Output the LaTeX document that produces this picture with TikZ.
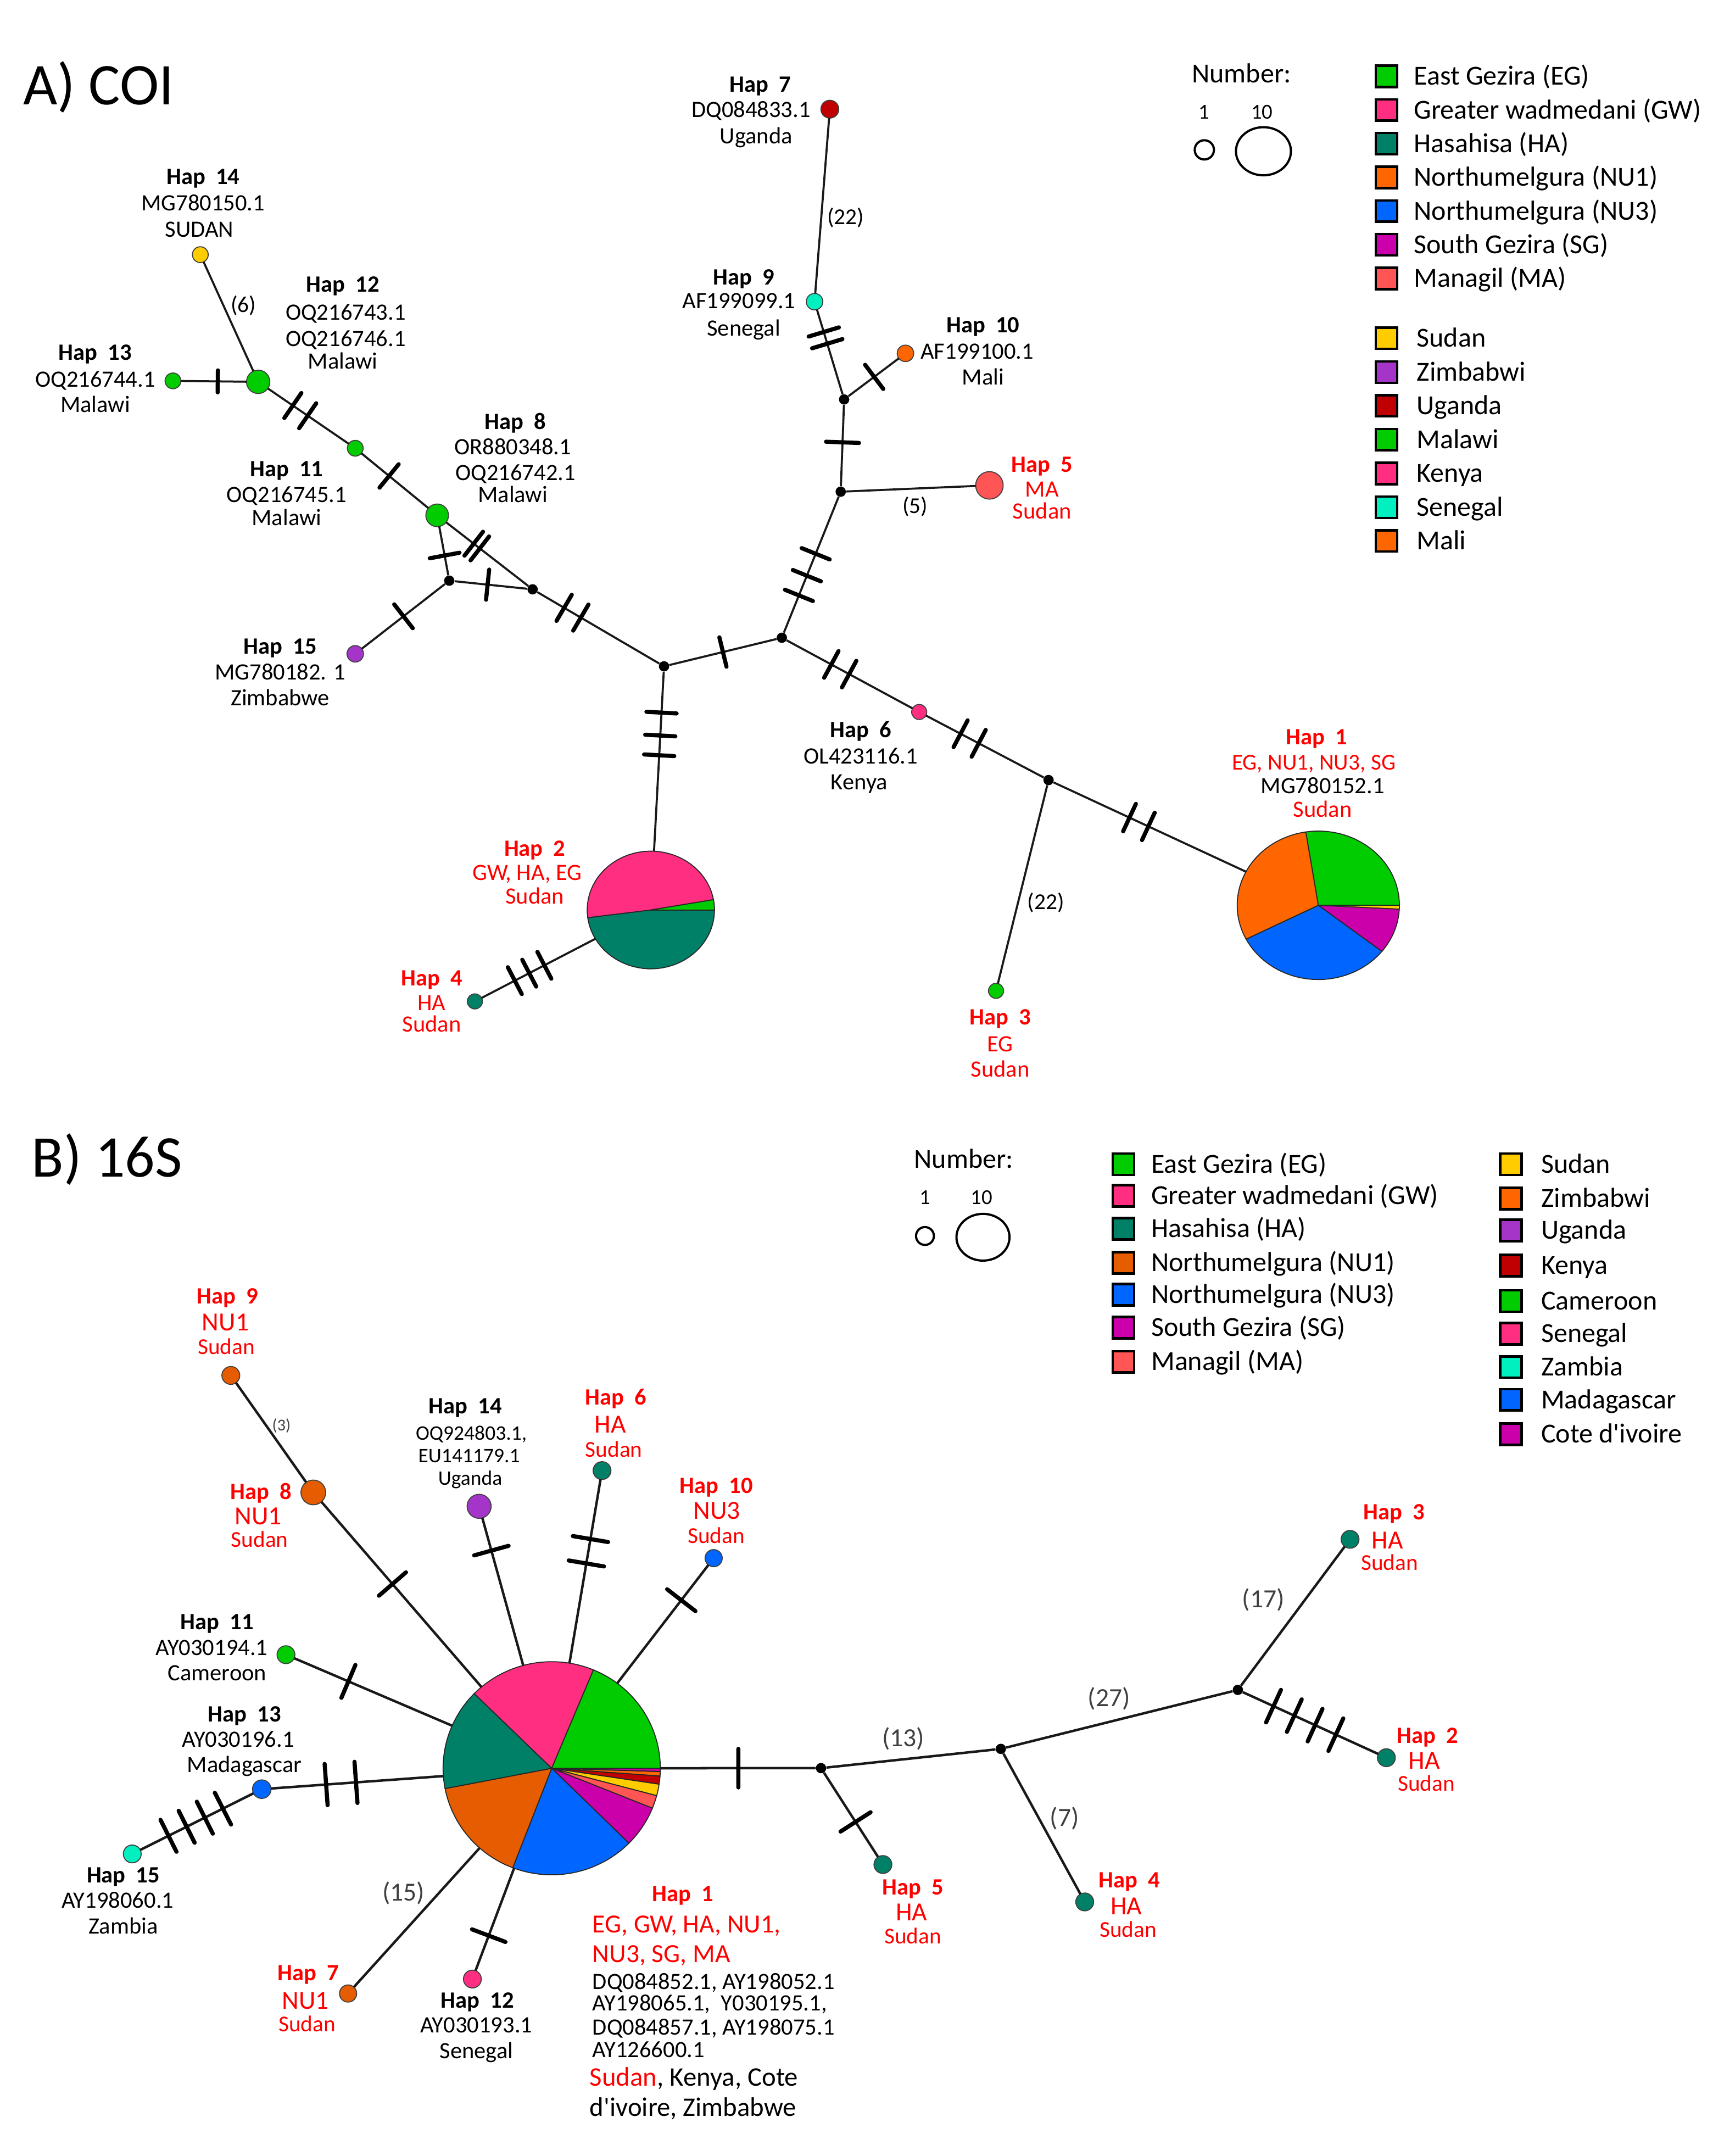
\documentclass[tikz,border=0pt]{standalone}
\usepackage{fontspec}
\setmainfont{Carlito}
\usetikzlibrary{calc,shapes.geometric}
\definecolor{cEG}{HTML}{00CC00}
\definecolor{cGW}{HTML}{FF2E80}
\definecolor{cHA}{HTML}{008066}
\definecolor{cNU}{HTML}{FF6600}
\definecolor{cNUb}{HTML}{E65C00}
\definecolor{cNT}{HTML}{0066FF}
\definecolor{cSG}{HTML}{CC00AA}
\definecolor{cMA}{HTML}{FF5555}
\definecolor{cSD}{HTML}{FFCC00}
\definecolor{cPU}{HTML}{A535C8}
\definecolor{cDR}{HTML}{C00000}
\definecolor{cCY}{HTML}{00F0C0}
\definecolor{hred}{HTML}{FF0000}
\newcommand\fsz[1]{\fontsize{#1}{#1}\selectfont}
\newcommand\lb[5]{\node[lbl,#4] (#1) at (#2,#3) {#5};}
\newcommand\hsh[4]{\foreach \hp in {#3}{\path ($(#1)!\hp!(#2)$) coordinate (hm); \draw[hashmk] ($(hm)!#4!90:(#2)$) -- ($(hm)!#4!-90:(#2)$);}}
\newcommand\slc[5]{\filldraw[pieslice,fill=#5] (0,0) -- plot[domain=#3:#4,samples=40] ({#1*cos(\x)},{#2*sin(\x)}) -- cycle;}
\tikzset{
 lbl/.style={anchor=base, inner sep=0pt, outer sep=0pt},
 f17/.style={font=\fsz{17}}, b17/.style={font=\fsz{17}\bfseries},
 f19/.style={font=\fsz{19}}, f16/.style={font=\fsz{16.5}},
 f15/.style={font=\fsz{15}}, f20/.style={font=\fsz{20}},
 rd/.style={text=hred}, gy/.style={text=black!75},
 hn/.style={circle, draw=black!75, line width=0.7pt, inner sep=0pt, outer sep=0pt},
 jn/.style={circle, fill=black, inner sep=0pt, minimum size=7.5pt},
 pie/.style={ellipse, inner sep=0pt, outer sep=0pt},
 lnk/.style={line width=1.5pt, black!90},
 lnkb/.style={line width=1.8pt, black!90},
 hashmk/.style={line width=3pt, line cap=round, black},
 pieslice/.style={draw=black!85, line width=0.7pt},
 lgb/.style={draw=black, line width=1.8pt, inner sep=0pt, minimum size=15.5pt},
 sc/.style={ellipse, draw=black, line width=1.6pt, inner sep=0pt}
}
\begin{document}
\begin{tikzpicture}[x=1pt,y=-1pt]
\fill[white] (0,0) rectangle (1246,1568);
\useasboundingbox (0,0) rectangle (1246,1568);

% ================= A) COI =================
\node[lbl, anchor=base west, font=\fsz{43}] (tA) at (17,76) {A) COI};

% legend
\lb{nA}{867}{60}{f20,anchor=base west}{Number:}
\lb{nA1}{875.8}{86.5}{font=\fsz{15.5}}{1}
\lb{nA10}{918}{86.5}{font=\fsz{15.5}}{10}
\node[sc, minimum width=14pt, minimum height=14pt] (sA1) at (876,109) {};
\node[sc, minimum width=40pt, minimum height=35pt] (sA10) at (919,110) {};
\node[lgb, fill=cEG] (kA1) at (1008.5,55.5) {};
\node[lgb, fill=cGW] (kA2) at (1008.5,80) {};
\node[lgb, fill=cHA] (kA3) at (1008.5,104.5) {};
\node[lgb, fill=cNU] (kA4) at (1008.5,129) {};
\node[lgb, fill=cNT] (kA5) at (1008.5,153.5) {};
\node[lgb, fill=cSG] (kA6) at (1008.5,178) {};
\node[lgb, fill=cMA] (kA7) at (1008.5,202.5) {};
\node[lgb, fill=cSD] (kA8) at (1008.5,246) {};
\node[lgb, fill=cPU] (kA9) at (1008.5,270.6) {};
\node[lgb, fill=cDR] (kA10) at (1008.5,295.1) {};
\node[lgb, fill=cEG] (kA11) at (1008.5,319.7) {};
\node[lgb, fill=cGW] (kA12) at (1008.5,344.3) {};
\node[lgb, fill=cCY] (kA13) at (1008.5,368.9) {};
\node[lgb, fill=cNU] (kA14) at (1008.5,393.4) {};
\lb{xA1}{1028.5}{61.8}{f20,anchor=base west}{East Gezira (EG)}
\lb{xA2}{1028.5}{86.3}{f20,anchor=base west}{Greater wadmedani (GW)}
\lb{xA3}{1028.5}{110.8}{f20,anchor=base west}{Hasahisa (HA)}
\lb{xA4}{1028.5}{135.3}{f20,anchor=base west}{Northumelgura (NU1)}
\lb{xA5}{1028.5}{159.8}{f20,anchor=base west}{Northumelgura (NU3)}
\lb{xA6}{1028.5}{184.3}{f20,anchor=base west}{South Gezira (SG)}
\lb{xA7}{1028.5}{208.8}{f20,anchor=base west}{Managil (MA)}
\lb{xA8}{1030.5}{252.3}{f20,anchor=base west}{Sudan}
\lb{xA9}{1030.5}{276.9}{f20,anchor=base west}{Zimbabwi}
\lb{xA10}{1030.5}{301.4}{f20,anchor=base west}{Uganda}
\lb{xA11}{1030.5}{326}{f20,anchor=base west}{Malawi}
\lb{xA12}{1030.5}{350.6}{f20,anchor=base west}{Kenya}
\lb{xA13}{1030.5}{375.2}{f20,anchor=base west}{Senegal}
\lb{xA14}{1030.5}{399.7}{f20,anchor=base west}{Mali}

% nodes
\node[hn, fill=cDR, minimum size=13pt] (a7) at (603.6,79.4) {};
\node[hn, fill=cCY, minimum size=12pt] (a9) at (592.5,219.4) {};
\node[hn, fill=cNU, minimum size=12pt] (a10) at (658.6,257) {};
\node[hn, fill=cMA, minimum size=20pt] (a5) at (719.7,353) {};
\node[jn] (aj1) at (614,290.5) {};
\node[jn] (aj2) at (611.5,357.6) {};
\node[jn] (aj3) at (568.7,463.8) {};
\node[jn] (aj4) at (483,484.6) {};
\node[jn] (aj5) at (387.4,428.6) {};
\node[jn] (aj6) at (326.8,422.3) {};
\node[jn] (aj7) at (762.7,567.3) {};
\node[hn, fill=cSD, minimum size=11.5pt] (a14) at (145.7,185.2) {};
\node[hn, fill=cEG, minimum size=17pt] (a12) at (187.8,277.7) {};
\node[hn, fill=cEG, minimum size=11.5pt] (a13) at (125.8,277) {};
\node[hn, fill=cEG, minimum size=11.5pt] (a11) at (258.4,326) {};
\node[hn, fill=cEG, minimum size=16.5pt] (a8) at (318,374.8) {};
\node[hn, fill=cPU, minimum size=12pt] (a15) at (258.4,475.5) {};
\node[hn, fill=cGW, minimum size=11pt] (a6) at (668.6,517.8) {};
\node[hn, fill=cHA, minimum size=11pt] (a4) at (345.4,728.3) {};
\node[hn, fill=cEG, minimum size=11pt] (a3) at (724.5,720.6) {};
\node[pie, minimum width=118pt, minimum height=108pt] (a1) at (958.9,658.4) {};
\node[pie, minimum width=92.6pt, minimum height=85.6pt] (a2) at (473.4,661.8) {};

% pies
\begin{scope}[shift={(958.9,658.4)}]
\slc{59}{54}{-98.9}{0}{cEG}
\slc{59}{54}{0}{3}{cSD}
\slc{59}{54}{3}{38.4}{cSG}
\slc{59}{54}{38.4}{152.9}{cNT}
\slc{59}{54}{152.9}{261.1}{cNU}
\end{scope}
\begin{scope}[shift={(473.4,661.8)}]
\slc{46.3}{42.8}{0}{172.5}{cHA}
\slc{46.3}{42.8}{172.5}{349.9}{cGW}
\slc{46.3}{42.8}{349.9}{360}{cEG}
\end{scope}

% edges
\draw[lnk] (a7) -- (a9);
\draw[lnk] (a9) -- (aj1);
\draw[lnk] (aj1) -- (a10);
\draw[lnk] (aj1) -- (aj2);
\draw[lnk] (aj2) -- (a5);
\draw[lnk] (aj2) -- (aj3);
\draw[lnk] (aj3) -- (aj4);
\draw[lnk] (aj3) -- (a6);
\draw[lnk] (a6) -- (aj7);
\draw[lnk] (aj7) -- (a1);
\draw[lnk] (aj7) -- (a3);
\draw[lnk] (aj4) -- (a2);
\draw[lnk] (a4) -- (a2);
\draw[lnk] (aj4) -- (aj5);
\draw[lnk] (aj5) -- (a8);
\draw[lnk] (aj5) -- (aj6);
\draw[lnk] (aj6) -- (a8);
\draw[lnk] (aj6) -- (a15);
\draw[lnk] (a8) -- (a11);
\draw[lnk] (a11) -- (a12);
\draw[lnk] (a12) -- (a13);
\draw[lnk] (a12) -- (a14);

% mutation marks
\hsh{a11}{a12}{0.49,0.643}{11pt}
\hsh{a12}{a13}{0.474}{8pt}
\hsh{a8}{a11}{0.587}{11pt}
\hsh{aj5}{a8}{0.553,0.617}{11pt}
\hsh{aj6}{a8}{0.385}{11pt}
\hsh{aj6}{aj5}{0.46}{11pt}
\hsh{aj6}{a15}{0.487}{11pt}
\hsh{aj4}{aj5}{0.633,0.76}{11pt}
\hsh{aj4}{aj3}{0.5}{11pt}
\hsh{aj4}{a2}{0.19,0.284,0.365}{11pt}
\hsh{a4}{a2}{0.227,0.309,0.395}{11pt}
\hsh{aj3}{aj2}{0.29,0.425,0.575}{11pt}
\hsh{aj2}{aj1}{0.535}{12pt}
\hsh{aj1}{a9}{0.57,0.69}{11.5pt}
\hsh{aj1}{a10}{0.49}{11pt}
\hsh{aj3}{a6}{0.36,0.49}{11pt}
\hsh{a6}{aj7}{0.32,0.46}{11pt}
\hsh{aj7}{a1}{0.30,0.37}{11pt}

% edge labels
\lb{eA1}{615}{163.3}{f16}{(22)}
\lb{eA2}{665.6}{373.3}{f16}{(5)}
\lb{eA3}{177}{227.3}{f16}{(6)}
\lb{eA4}{760.7}{661.3}{f16}{(22)}

% labels
\lb{la7a}{553}{67.1}{b17}{Hap~~7}
\lb{la7b}{546.3}{85.4}{f17}{DQ084833.1}
\lb{la7c}{550}{104.4}{f17}{Uganda}
\lb{la9a}{541}{207.2}{b17}{Hap~~9}
\lb{la9b}{537.5}{224.4}{f17}{AF199099.1}
\lb{la9c}{541}{244.4}{f17}{Senegal}
\lb{la10a}{715}{241.9}{b17}{Hap~~10}
\lb{la10b}{710.8}{261}{f17}{AF199100.1}
\lb{la10c}{715}{279.9}{f17}{Mali}
\lb{la5a}{758}{343.4}{b17,rd}{Hap~~5}
\lb{la5b}{758}{361.4}{f17,rd}{MA}
\lb{la5c}{758}{377.4}{f17,rd}{Sudan}
\lb{la14a}{147.7}{134.1}{b17}{Hap~~14}
\lb{la14b}{147.7}{153.2}{f17}{MG780150.1}
\lb{la14c}{145}{172.3}{f17}{SUDAN}
\lb{la12a}{249.4}{212.3}{b17}{Hap~~12}
\lb{la12b}{251.4}{232.9}{f17}{OQ216743.1}
\lb{la12c}{251.4}{252}{f17}{OQ216746.1}
\lb{la12d}{249.4}{268.4}{f17}{Malawi}
\lb{la13a}{69.3}{262}{b17}{Hap~~13}
\lb{la13b}{69.3}{281.4}{f17}{OQ216744.1}
\lb{la13c}{69.3}{299.7}{f17}{Malawi}
\lb{la8a}{375}{312.2}{b17}{Hap~~8}
\lb{la8b}{373}{330.6}{f17}{OR880348.1}
\lb{la8c}{375}{349.3}{f17}{OQ216742.1}
\lb{la8d}{373}{365.4}{f17}{Malawi}
\lb{la11a}{208.5}{346.4}{b17}{Hap~~11}
\lb{la11b}{208.5}{365.4}{f17}{OQ216745.1}
\lb{la11c}{208.5}{382.2}{f17}{Malawi}
\lb{la15a}{203.8}{475.4}{b17}{Hap~~15}
\lb{la15b}{203.8}{494.4}{f17}{MG780182. 1}
\lb{la15c}{203.8}{513}{f17}{Zimbabwe}
\lb{la6a}{626}{536.4}{b17}{Hap~~6}
\lb{la6b}{626}{555.4}{f17}{OL423116.1}
\lb{la6c}{625}{574.4}{f17}{Kenya}
\lb{la2a}{389}{622.7}{b17,rd}{Hap~~2}
\lb{la2b}{383.6}{640.2}{f17,rd}{GW, HA, EG}
\lb{la2c}{389}{657.2}{f17,rd}{Sudan}
\lb{la4a}{314}{716.8}{b17,rd}{Hap~~4}
\lb{la4b}{314}{734.7}{f17,rd}{HA}
\lb{la4c}{314}{750.4}{f17,rd}{Sudan}
\lb{la3a}{727.5}{745.4}{b17,rd}{Hap~~3}
\lb{la3b}{727.5}{764.7}{f17,rd}{EG}
\lb{la3c}{727.5}{783}{f17,rd}{Sudan}
\lb{la1a}{957.7}{541.4}{b17,rd}{Hap~~1}
\lb{la1b}{955.6}{559.9}{f16,rd}{EG, NU1, NU3, SG}
\lb{la1c}{962}{577.2}{f17}{MG780152.1}
\lb{la1d}{962}{594.4}{f17,rd}{Sudan}

% ================= B) 16S =================
\node[lbl, anchor=base west, font=\fsz{43}] (tB) at (23,856) {B) 16S};

\lb{nB}{665}{849.7}{f20,anchor=base west}{Number:}
\lb{nB1}{672.8}{875.8}{font=\fsz{15.5}}{1}
\lb{nB10}{714}{875.8}{font=\fsz{15.5}}{10}
\node[sc, minimum width=13pt, minimum height=13pt] (sB1) at (672.8,898.9) {};
\node[sc, minimum width=38.6pt, minimum height=34pt] (sB10) at (715,899.8) {};
\node[lgb, fill=cEG] (kB1) at (817.2,846.7) {};
\node[lgb, fill=cGW] (kB2) at (817.2,869.7) {};
\node[lgb, fill=cHA] (kB3) at (817.2,893.6) {};
\node[lgb, fill=cNUb] (kB4) at (817.2,918.4) {};
\node[lgb, fill=cNT] (kB5) at (817.2,941.6) {};
\node[lgb, fill=cSG] (kB6) at (817.2,965.6) {};
\node[lgb, fill=cMA] (kB7) at (817.2,990.4) {};
\lb{xB1}{837.4}{853}{f20,anchor=base west}{East Gezira (EG)}
\lb{xB2}{837.4}{876}{f20,anchor=base west}{Greater wadmedani (GW)}
\lb{xB3}{837.4}{899.9}{f20,anchor=base west}{Hasahisa (HA)}
\lb{xB4}{837.4}{924.7}{f20,anchor=base west}{Northumelgura (NU1)}
\lb{xB5}{837.4}{947.9}{f20,anchor=base west}{Northumelgura (NU3)}
\lb{xB6}{837.4}{971.9}{f20,anchor=base west}{South Gezira (SG)}
\lb{xB7}{837.4}{996.7}{f20,anchor=base west}{Managil (MA)}
\node[lgb, fill=cSD] (kC1) at (1099,846.7) {};
\node[lgb, fill=cNU] (kC2) at (1099,871.7) {};
\node[lgb, fill=cPU] (kC3) at (1099,894.9) {};
\node[lgb, fill=cDR] (kC4) at (1099,920.4) {};
\node[lgb, fill=cEG] (kC5) at (1099,946.2) {};
\node[lgb, fill=cGW] (kC6) at (1099,970) {};
\node[lgb, fill=cCY] (kC7) at (1099,994.2) {};
\node[lgb, fill=cNT] (kC8) at (1099,1018) {};
\node[lgb, fill=cSG] (kC9) at (1099,1043) {};
\lb{xC1}{1121}{853}{f20,anchor=base west}{Sudan}
\lb{xC2}{1121}{878}{f20,anchor=base west}{Zimbabwi}
\lb{xC3}{1121}{901.2}{f20,anchor=base west}{Uganda}
\lb{xC4}{1121}{926.7}{f20,anchor=base west}{Kenya}
\lb{xC5}{1121}{952.5}{f20,anchor=base west}{Cameroon}
\lb{xC6}{1121}{976.3}{f20,anchor=base west}{Senegal}
\lb{xC7}{1121}{1000.5}{f20,anchor=base west}{Zambia}
\lb{xC8}{1121}{1024.3}{f20,anchor=base west}{Madagascar}
\lb{xC9}{1121}{1049.3}{f20,anchor=base west}{Cote d\textquotesingle ivoire}

% nodes
\node[hn, fill=cNUb, minimum size=13pt] (b9) at (167.9,1000.3) {};
\node[hn, fill=cNUb, minimum size=18pt] (b8) at (227.9,1085.4) {};
\node[hn, fill=cPU, minimum size=17.5pt] (b14) at (348.5,1095.5) {};
\node[hn, fill=cHA, minimum size=13pt] (b6) at (437.9,1069.5) {};
\node[hn, fill=cNT, minimum size=12.5pt] (b10) at (519.1,1133.2) {};
\node[hn, fill=cEG, minimum size=13pt] (b11) at (208,1203.4) {};
\node[hn, fill=cNT, minimum size=13.5pt] (b13) at (190.4,1301.2) {};
\node[hn, fill=cCY, minimum size=13pt] (b15) at (96.2,1348.3) {};
\node[hn, fill=cNUb, minimum size=12.5pt] (b7) at (253.2,1449.8) {};
\node[hn, fill=cGW, minimum size=13pt] (b12) at (343.6,1439.3) {};
\node[hn, fill=cHA, minimum size=13pt] (b5) at (642.2,1356) {};
\node[hn, fill=cHA, minimum size=13pt] (b4) at (789,1383.2) {};
\node[hn, fill=cHA, minimum size=13pt] (b3) at (982,1119.5) {};
\node[hn, fill=cHA, minimum size=13pt] (b2) at (1008.4,1278.3) {};
\node[jn] (bj1) at (597.2,1285.9) {};
\node[jn] (bj2) at (728,1271.9) {};
\node[jn] (bj3) at (900.4,1229) {};
\node[pie, minimum width=158pt, minimum height=155pt] (b1) at (401.3,1286) {};

\begin{scope}[shift={(401.3,1286)}]
\slc{79}{77.5}{0}{1.8}{cSG}
\slc{79}{77.5}{1.8}{4.2}{cNU}
\slc{79}{77.5}{4.2}{8.6}{cDR}
\slc{79}{77.5}{8.6}{14.9}{cSD}
\slc{79}{77.5}{14.9}{22}{cMA}
\slc{79}{77.5}{22}{44.7}{cSG}
\slc{79}{77.5}{44.7}{111}{cNT}
\slc{79}{77.5}{111}{169}{cNUb}
\slc{79}{77.5}{169}{224.5}{cHA}
\slc{79}{77.5}{224.5}{292.6}{cGW}
\slc{79}{77.5}{292.6}{360}{cEG}
\end{scope}

\draw[lnkb] (b9) -- (b8);
\draw[lnkb] (b8) -- (b1);
\draw[lnkb] (b14) -- (b1);
\draw[lnkb] (b6) -- (b1);
\draw[lnkb] (b10) -- (b1);
\draw[lnkb] (b11) -- (b1);
\draw[lnkb] (b15) -- (b13);
\draw[lnkb] (b13) -- (b1);
\draw[lnkb] (b7) -- (b1);
\draw[lnkb] (b12) -- (b1);
\draw[lnkb] (b1) -- (bj1);
\draw[lnkb] (bj1) -- (b5);
\draw[lnkb] (bj1) -- (bj2);
\draw[lnkb] (bj2) -- (b4);
\draw[lnkb] (bj2) -- (bj3);
\draw[lnkb] (bj3) -- (b3);
\draw[lnkb] (bj3) -- (b2);

\hsh{b8}{b1}{0.332}{13pt}
\hsh{b14}{b1}{0.169}{13pt}
\hsh{b6}{b1}{0.23,0.312}{13pt}
\hsh{b10}{b1}{0.2}{13pt}
\hsh{b11}{b1}{0.235}{13pt}
\hsh{b13}{b1}{0.222,0.325}{15pt}
\hsh{b15}{b13}{0.28,0.42,0.56,0.70}{13pt}
\hsh{b12}{b1}{0.206}{13pt}
\hsh{b1}{bj1}{0.693}{14pt}
\hsh{bj1}{b5}{0.558}{13pt}
\hsh{bj3}{b2}{0.24,0.38,0.52,0.66}{13pt}

\lb{eB1}{204.7}{1040.3}{font=\fsz{12},gy}{(3)}
\lb{eB2}{293.5}{1382.3}{f19,gy}{(15)}
\lb{eB3}{657}{1270.3}{f19,gy}{(13)}
\lb{eB4}{774.3}{1328.1}{f19,gy}{(7)}
\lb{eB5}{806.7}{1241.1}{f19,gy}{(27)}
\lb{eB6}{919}{1169.1}{f19,gy}{(17)}

\lb{lb9a}{165.6}{948.1}{b17,rd}{Hap~~9}
\lb{lb9b}{164}{967.9}{f19,rd}{NU1}
\lb{lb9c}{164.6}{985}{f16,rd}{Sudan}
\lb{lb8a}{189.8}{1090.4}{b17,rd}{Hap~~8}
\lb{lb8b}{187.8}{1108.8}{f19,rd}{NU1}
\lb{lb8c}{188.8}{1125.3}{f16,rd}{Sudan}
\lb{lb14a}{338.5}{1027.9}{b17}{Hap~~14}
\lb{lb14b}{342.8}{1047.1}{f15}{OQ924803.1,}
\lb{lb14c}{341.2}{1063.8}{f15}{EU141179.1}
\lb{lb14d}{342}{1080}{f15}{Uganda}
\lb{lb6a}{448}{1021.7}{b17,rd}{Hap~~6}
\lb{lb6b}{443.9}{1042.1}{f19,rd}{HA}
\lb{lb6c}{446.5}{1059.8}{f16,rd}{Sudan}
\lb{lb10a}{521}{1085.9}{b17,rd}{Hap~~10}
\lb{lb10b}{521.4}{1104.6}{f19,rd}{NU3}
\lb{lb10c}{521}{1122.3}{f16,rd}{Sudan}
\lb{lb11a}{158}{1185.1}{b17}{Hap~~11}
\lb{lb11b}{154}{1203.7}{f17}{AY030194.1}
\lb{lb11c}{158}{1222.4}{f17}{Cameroon}
\lb{lb13a}{177.8}{1252.1}{b17}{Hap~~13}
\lb{lb13b}{173.2}{1270.4}{f17}{AY030196.1}
\lb{lb13c}{177.8}{1289}{f17}{Madagascar}
\lb{lb15a}{89.7}{1369.4}{b17}{Hap~~15}
\lb{lb15b}{85.6}{1387.8}{f17}{AY198060.1}
\lb{lb15c}{89.7}{1406.2}{f17}{Zambia}
\lb{lb7a}{224.2}{1440.4}{b17,rd}{Hap~~7}
\lb{lb7b}{222.2}{1461.1}{f19,rd}{NU1}
\lb{lb7c}{223.4}{1477.6}{f16,rd}{Sudan}
\lb{lb12a}{347.3}{1460.4}{b17}{Hap~~12}
\lb{lb12b}{346.5}{1478.4}{f17}{AY030193.1}
\lb{lb12c}{346.5}{1497.2}{f17}{Senegal}
\lb{lb5a}{664}{1378}{b17,rd}{Hap~~5}
\lb{lb5b}{663}{1397}{f19,rd}{HA}
\lb{lb5c}{664}{1413.5}{f16,rd}{Sudan}
\lb{lb4a}{821.6}{1372.8}{b17,rd}{Hap~~4}
\lb{lb4b}{819.3}{1392.6}{f19,rd}{HA}
\lb{lb4c}{820.6}{1408.9}{f16,rd}{Sudan}
\lb{lb3a}{1014}{1105.3}{b17,rd}{Hap~~3}
\lb{lb3b}{1009.3}{1126.4}{f19,rd}{HA}
\lb{lb3c}{1010.7}{1142.1}{f16,rd}{Sudan}
\lb{lb2a}{1038.4}{1267.9}{b17,rd}{Hap~~2}
\lb{lb2b}{1036}{1286.4}{f19,rd}{HA}
\lb{lb2c}{1037.5}{1302.6}{f16,rd}{Sudan}
\lb{lb1a}{496.6}{1382.7}{b17,rd}{Hap~~1}
\lb{lb1b}{431}{1405.4}{f19,rd,anchor=base west}{EG, GW, HA, NU1,}
\lb{lb1c}{431}{1427.1}{f19,rd,anchor=base west}{NU3, SG, MA}
\lb{lb1d}{431}{1446.7}{f17,anchor=base west}{DQ084852.1, AY198052.1}
\lb{lb1e}{431}{1462.4}{f17,anchor=base west}{AY198065.1,~~Y030195.1,}
\lb{lb1f}{431}{1479.7}{f17,anchor=base west}{DQ084857.1, AY198075.1}
\lb{lb1g}{431}{1496.2}{f17,anchor=base west}{AY126600.1}
\lb{lb1h}{429}{1517}{font=\fsz{19.5},anchor=base west}{{\color{hred}Sudan}, Kenya, Cote}
\lb{lb1i}{429}{1539}{font=\fsz{19.5},anchor=base west}{d\textquotesingle ivoire, Zimbabwe}
\end{tikzpicture}
\end{document}
